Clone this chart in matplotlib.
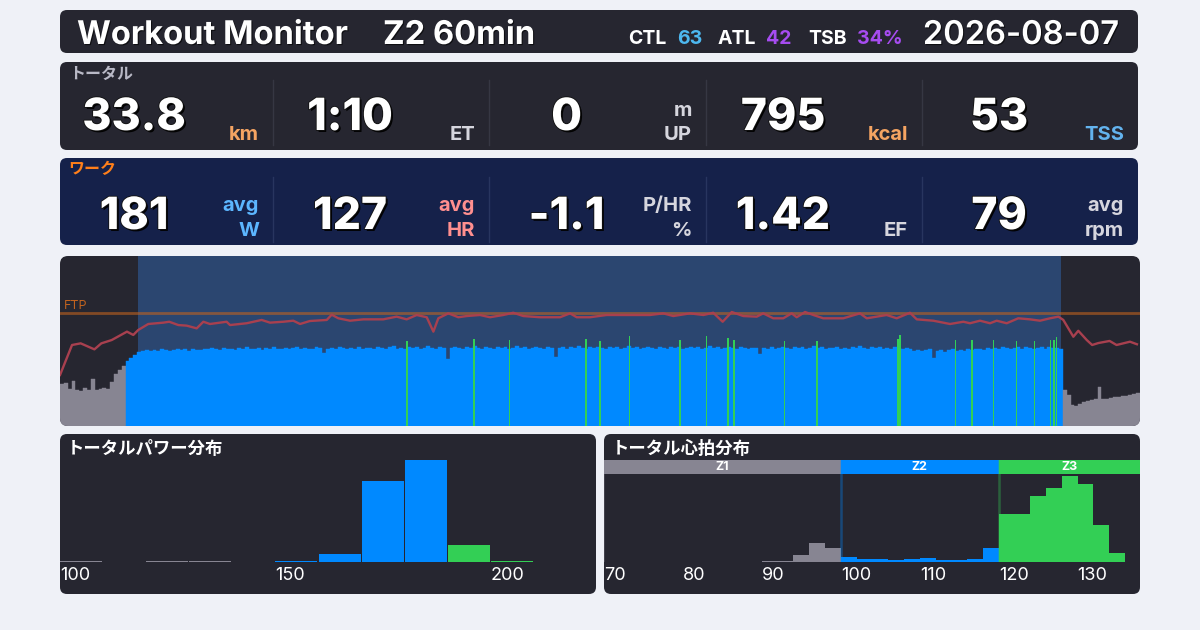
import matplotlib
matplotlib.use("Agg")
import matplotlib.pyplot as plt
import matplotlib.patheffects as pe
import matplotlib.transforms as mtransforms
from matplotlib.patches import FancyBboxPatch
import numpy as np

plt.rcParams['font.family'] = ['Inter', 'Noto Sans CJK JP', 'DejaVu Sans']

# ---- values ----
workout_title = "Workout Monitor"
workout_name = "Z2 60min"
fitness_labels = ["CTL", "ATL", "TSB"]
fitness_values = ["63", "42", "34%"]
session_date = "2026-08-07"

total_values = ["33.8", "1:10", "0", "795", "53"]
total_units = [["km"], ["ET"], ["m", "UP"], ["kcal"], ["TSS"]]
work_values = ["181", "127", "-1.1", "1.42", "79"]
work_units = [["avg", "W"], ["avg", "HR"], ["P/HR", "%"], ["EF"], ["avg", "rpm"]]

FTP = 265
sample_min = 0.25          # one power sample = 15 s
work_start, work_end = 5.05, 64.87

warmup_power = [98, 100, 86, 106, 84, 82, 88, 84, 110, 85, 87, 90, 86, 104, 121, 131, 140]
work_power = [
    152, 160, 166,
    172, 176, 177, 175, 178, 176, 179, 177, 175, 178, 180, 177, 179, 176, 181, 178, 177, 180, 179, 182,
    180, 178, 183, 179, 181, 177, 182, 180, 184, 179, 181, 183, 178, 182, 180, 185, 181, 179, 183, 180,
    182, 184, 180, 183, 181, 179, 184, 182, 170, 181, 183, 180, 185, 182, 179, 183, 181, 184, 180, 182,
    183, 181, 185, 182, 180, 184, 186, 181, 183, 180, 185, 182, 184, 181, 183, 186, 182, 180, 184, 183,
    156, 182, 185, 183, 181, 184, 182, 186, 183, 181, 185, 183, 180, 184, 182, 185, 181, 183, 186, 182,
    184, 181, 183, 185, 182, 180, 184, 183, 162, 182, 185, 181, 184, 182, 186, 183, 181, 184, 182, 185,
    183, 181, 185, 182, 184, 180, 183, 186, 182, 184, 181, 183, 185, 182, 180, 184, 183, 181, 185, 182,
    184, 181, 183, 185, 182, 184, 180, 183, 186, 182, 184, 181, 183, 185, 182, 180, 184, 183, 181, 182,
    183, 168, 182, 180, 184, 181, 183, 185, 182, 180, 184, 182, 185, 181, 183, 186, 182, 184, 181, 183,
    182, 185, 181, 183, 180, 184, 182, 186, 183, 181, 184, 182, 185, 180, 183, 181, 184, 182, 180, 183,
    179, 176, 178, 175, 177, 179, 160, 176, 178, 174, 177, 179, 175, 178, 176, 180, 177, 179, 181, 178,
    182, 180, 183, 181, 184, 182, 180, 183, 185, 181, 184, 182, 180, 183, 185, 181, 184, 182, 183, 181,
]
cooldown_power = [84, 72, 50, 47, 52, 55, 58, 60, 62, 92, 64, 64, 66, 67, 68, 70, 71, 73, 74, 76]

spike_t = [22.50, 26.85, 29.13, 34.11, 35.00, 36.90, 40.20, 41.90, 43.28, 43.70, 46.96,
           49.08, 54.33, 54.46, 58.04, 59.12, 60.49, 62.01, 63.17, 64.19, 64.44, 64.58]
spike_power = [199, 203, 201, 203, 199, 210, 201, 210, 206, 201, 199,
               199, 203, 213, 201, 201, 201, 199, 199, 201, 201, 209]

hr_t = [0.0, 0.78, 1.34, 2.23, 2.68, 3.35, 4.34, 4.75, 5.07, 5.72, 6.70, 7.08, 7.67, 8.21,
        8.86, 9.29, 9.72, 10.80, 11.02, 12.10, 13.07, 13.61, 14.47, 15.12, 15.56, 16.20,
        17.29, 17.61, 18.04, 18.80, 19.66, 20.95, 21.82, 22.47, 23.12, 23.77, 24.20, 24.52,
        25.17, 25.82, 26.36, 27.22, 27.87, 28.73, 29.38, 30.03, 31.11, 32.41, 33.06, 33.49,
        34.35, 35.43, 36.94, 38.24, 39.10, 39.75, 40.83, 41.70, 42.34, 42.95, 43.54, 44.29,
        45.16, 45.58, 46.23, 46.88, 47.42, 47.75, 48.29, 48.83, 49.47, 50.77, 51.85, 52.29,
        53.58, 54.23, 55.09, 55.53, 56.60, 57.69, 58.55, 58.98, 59.63, 60.28, 60.71, 61.36,
        62.11, 62.87, 63.52, 64.17, 64.71, 65.03, 65.68, 66.00, 66.55, 66.90, 67.30, 68.03,
        68.48, 69.35, 69.80]
hr_bpm = [92.0, 112.0, 113.1, 109.1, 113.1, 115.3, 120.9, 118.7, 122.0, 126.0, 126.9, 127.5,
          125.3, 124.9, 123.1, 127.5, 126.0, 127.5, 125.3, 126.5, 128.7, 126.9, 127.5, 128.2,
          126.0, 128.0, 128.7, 132.2, 129.8, 128.2, 129.1, 129.1, 130.9, 129.1, 132.0, 130.5,
          120.9, 129.8, 133.1, 130.5, 131.3, 132.0, 130.5, 132.0, 133.5, 131.3, 130.5, 130.5,
          133.1, 130.5, 130.5, 132.0, 132.0, 132.0, 133.1, 131.3, 133.1, 132.0, 133.5, 127.5,
          134.0, 131.3, 130.9, 133.1, 129.8, 129.8, 133.1, 130.5, 134.0, 132.0, 129.8, 129.8,
          133.1, 129.8, 132.0, 129.8, 133.5, 129.1, 128.2, 126.0, 127.5, 126.5, 128.2, 126.5,
          128.2, 126.5, 129.8, 129.1, 128.2, 129.8, 130.9, 128.7, 117.5, 121.5, 115.3, 112.0,
          113.3, 114.7, 112.0, 114.2, 112.5]

power_bin_lo = [100, 110, 120, 130, 140, 150, 160, 170, 180, 190, 200]
power_bin_pct = [0.4, 0, 0.4, 0.4, 0, 0.4, 3.7, 38.3, 48.2, 7.9, 0.4]
power_ticks = [100, 150, 200]

hr_bin_lo = [90, 92, 94, 96, 98, 100, 102, 104, 106, 108, 110, 112, 114, 116, 118,
             120, 122, 124, 126, 128, 130, 132, 134]
hr_bin_pct = [0.2, 0.2, 1.3, 3.7, 2.6, 0.9, 0.5, 0.5, 0.4, 0.6, 0.8, 0.4, 0.4, 0.6, 2.6,
              9.1, 9.1, 12.5, 14.0, 16.3, 14.9, 7.0, 1.8]
hr_ticks = [70, 80, 90, 100, 110, 120, 130]
hr_zone_names = ["Z1", "Z2", "Z3"]
hr_zone_edges = [70, 100, 120]

# ---- styles ----
PAGE = '#eff1f7'
PANEL = '#262630'
NAVY = '#15214a'
WORK_SHADE = '#2b4670'
Z1C = '#878592'
Z2C = '#0089ff'
Z3C = '#33cf55'
HR_LINE = '#a8404f'
FTP_C = '#c0621f'
ORANGE = '#f5a462'
LIGHT = '#d6d6de'
TSS_BLUE = '#63b3ee'
W_BLUE = '#5cb6ff'
PINK = '#ff8f8f'
CTL_BLUE = '#4db8f0'
PURPLE = '#a64cf0'

W, H = 1200, 630
fig = plt.figure(figsize=(12, 6.3), dpi=100)
fig.patch.set_facecolor(PAGE)
bg = fig.add_axes([0, 0, 1, 1])
bg.set_xlim(0, W)
bg.set_ylim(H, 0)
bg.axis('off')


def panel(x0, y0, x1, y1, color, r=7):
    p = FancyBboxPatch((x0, y0), x1 - x0, y1 - y0, boxstyle=f"round,pad=0,rounding_size={r}",
                       fc=color, ec='none')
    bg.add_patch(p)
    return p


def px_axes(x0, y0, x1, y1):
    ax = fig.add_axes([x0 / W, 1 - y1 / H, (x1 - x0) / W, (y1 - y0) / H])
    ax.set_facecolor('none')
    ax.axis('off')
    return ax


num_fx = [pe.SimplePatchShadow(offset=(1.4, -1.4), shadow_rgbFace='black', alpha=0.95),
          pe.withStroke(linewidth=1.2, foreground='#111111')]
head_fx = [pe.SimplePatchShadow(offset=(0.8, -0.8), shadow_rgbFace='black', alpha=0.6), pe.Normal()]

# ---- header ----
panel(60, 10, 1138, 53, PANEL)
bg.text(77, 44, workout_title, fontsize=23.5, weight='bold', color='white', va='baseline', path_effects=head_fx)
bg.text(383, 44, workout_name, fontsize=23.5, weight='bold', color='white', va='baseline', path_effects=head_fx)
label_x = [628, 718, 808]
value_x = [677, 766, 857]
value_cols = [CTL_BLUE, PURPLE, PURPLE]
for lx, vx, lab, val, c in zip(label_x, value_x, fitness_labels, fitness_values, value_cols):
    bg.text(lx, 44, lab, fontsize=14, weight='bold', color='white', va='baseline')
    bg.text(vx, 44, val, fontsize=14, weight='bold', color=c, va='baseline')
bg.text(1119, 44, session_date, fontsize=23.5, weight=600, color='white', va='baseline', ha='right',
        path_effects=head_fx)

# ---- stat rows ----
col_edges = [57, 273, 489, 706, 922, 1138]


def stat_row(values, units, unit_cols, y_num, y_u1, y_u2, div_y, div_col):
    for i, (v, u, c) in enumerate(zip(values, units, unit_cols)):
        a, b = col_edges[i], col_edges[i + 1]
        bg.text((a + b) / 2 - 31, y_num, v, ha='center', va='baseline', fontsize=32,
                weight=800, color='white', path_effects=num_fx)
        if len(u) == 2:
            bg.text(b - 14, y_u1, u[0], ha='right', va='baseline', fontsize=14.5, weight='bold', color=c)
        bg.text(b - 14, y_u2, u[-1], ha='right', va='baseline', fontsize=14.5, weight='bold', color=c)
    for x in col_edges[1:-1]:
        bg.plot([x, x], div_y, color=div_col, lw=1)


panel(60, 62, 1138, 150, PANEL)
bg.text(69, 79, "トータル", fontsize=11.5, weight='bold', color='#b9b9c6', va='baseline')
stat_row(total_values, total_units, [ORANGE, LIGHT, LIGHT, ORANGE, TSS_BLUE],
         130, 116, 140, [80, 145], '#363743')

panel(60, 158, 1138, 245, NAVY)
bg.text(68, 174, "ワーク", fontsize=11.5, weight='bold', color='#ff7f1a', va='baseline')
stat_row(work_values, work_units, [W_BLUE, PINK, LIGHT, LIGHT, LIGHT],
         229, 211, 236, [177, 242], '#28355f')

# ---- power / heart rate timeline ----
chart_panel = panel(60, 256, 1140, 426, PANEL, r=8)
ax = px_axes(60, 256, 1140, 426)
power = np.array(warmup_power + work_power + cooldown_power)
t = np.arange(len(power)) * sample_min
cols = np.where(power < 150, Z1C, np.where(power < 190, Z2C, Z3C))
ax.axvspan(work_start, work_end, color=WORK_SHADE, lw=0, zorder=0)
ax.bar(t, power, width=sample_min, align='edge', color=cols, edgecolor=cols, linewidth=0.3, zorder=2)
ax.bar(spike_t, spike_power, width=0.1, color=Z3C, linewidth=0, zorder=2)
ax.axhline(FTP, color=FTP_C, lw=2, alpha=0.6, zorder=3)
ax.text(0.25, FTP + 9, "FTP", fontsize=9, color=FTP_C, va='baseline', zorder=3)
ax.set_xlim(0, 70)
ax.set_ylim(0, FTP * 1.5)

ax_hr = ax.twinx()
ax_hr.axis('off')
ax_hr.plot(hr_t, hr_bpm, color=HR_LINE, lw=1.7)
ax_hr.set_ylim(58, 171.33)
ax_hr.set_xlim(0, 70)
for art in ax.patches + ax.lines + ax_hr.lines:
    art.set_clip_path(chart_panel)

# ---- power distribution ----
panel(60, 434, 596, 594, PANEL)
bg.text(67, 454, "トータルパワー分布", fontsize=12.5, weight='bold', color='white', va='baseline')
ax_p = px_axes(60, 448, 596, 562)
pcols = [Z1C if v < 150 else (Z2C if v < 190 else Z3C) for v in power_bin_lo]
ax_p.bar(power_bin_lo, power_bin_pct, width=9.75, align='edge', color=pcols, linewidth=0)
ax_p.set_xlim(100, 224.4)
ax_p.set_ylim(0, 54)
tp = mtransforms.blended_transform_factory(ax_p.transData, bg.transData)
for v in power_ticks:
    bg.text(v, 580, str(v), transform=tp, fontsize=13, color='white', va='baseline', ha='left')

# ---- heart rate distribution ----
panel(604, 434, 1140, 594, PANEL)
bg.text(612, 454, "トータル心拍分布", fontsize=12.5, weight='bold', color='white', va='baseline')
ax_h = px_axes(604, 460, 1140, 562)
hr_xmax = 137.9
band_lo, band_hi = 16.73, 19.4
hcols = [Z1C if v < 100 else (Z2C if v < 120 else Z3C) for v in hr_bin_lo]
ax_h.bar(hr_bin_lo, hr_bin_pct, width=2, align='edge', color=hcols, linewidth=0)
zone_cols = [Z1C, Z2C, Z3C]
zone_ends = hr_zone_edges[1:] + [hr_xmax]
for name, lo, hi, c in zip(hr_zone_names, hr_zone_edges, zone_ends, zone_cols):
    ax_h.fill_between([lo, hi], band_lo, band_hi, color=c, lw=0)
    ax_h.text((lo + hi) / 2, (band_lo + band_hi) / 2, name, ha='center', va='center',
              fontsize=9, weight='bold', color='white')
    ax_h.axvline(lo, color=c, lw=1.8 if lo > 70 else 1.2, alpha=0.35, zorder=3)
ax_h.set_xlim(70, hr_xmax)
ax_h.set_ylim(0, band_hi)
th = mtransforms.blended_transform_factory(ax_h.transData, bg.transData)
for v in hr_ticks:
    bg.text(v, 580, str(v), transform=th, fontsize=13, color='white', va='baseline', ha='left')

fig.savefig("out.png", dpi=100, facecolor=PAGE)
